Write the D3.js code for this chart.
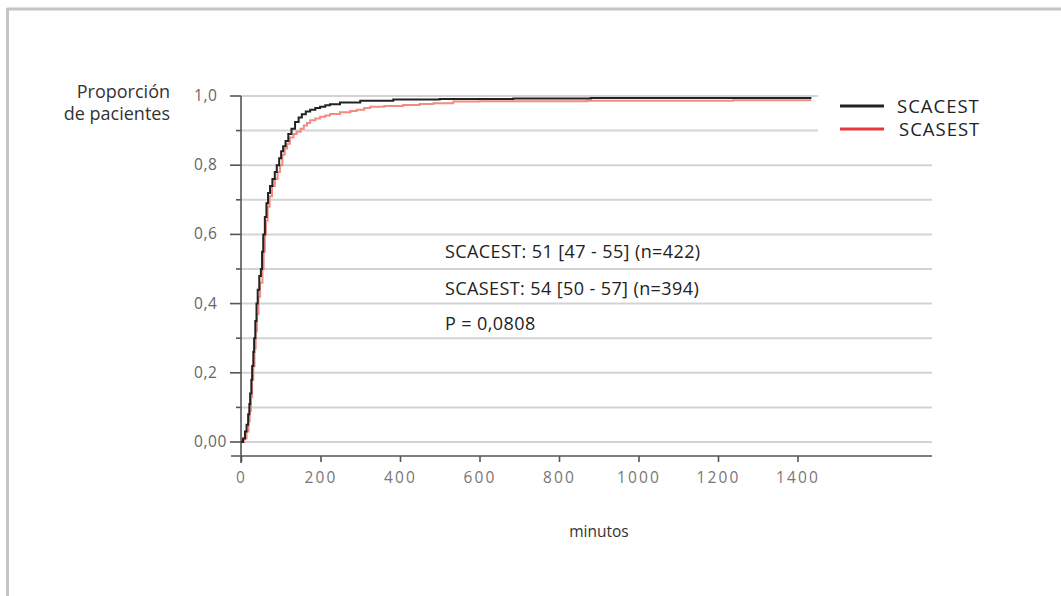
<!DOCTYPE html>
<html>
<head>
<meta charset="utf-8">
<script src="https://cdn.jsdelivr.net/npm/d3@7"></script>
<style>
  html, body { margin: 0; padding: 0; background: #fff; }
  svg { display: block; }
  text { font-family: "Open Sans", "Noto Sans", sans-serif; }
</style>
</head>
<body>
<svg id="chart" width="1061" height="596"></svg>
<script>
// Cumulative proportion of patients over time (minutes)
const seriesNames = ["SCACEST", "SCASEST"];

const scacestTime = [0, 5, 10, 14, 18, 21, 23, 26, 28, 31, 33, 36, 39, 42, 46, 50, 53, 56, 60, 64, 68, 73, 79, 85, 90, 96, 101, 106, 112, 119, 127, 136, 145, 153, 163, 174, 187, 199, 212, 224, 249, 300, 383, 500, 685, 880, 1435];
const scacestProp = [0, 0.01, 0.03, 0.05, 0.08, 0.11, 0.14, 0.18, 0.22, 0.26, 0.30, 0.35, 0.40, 0.44, 0.48, 0.50, 0.55, 0.60, 0.65, 0.69, 0.72, 0.74, 0.76, 0.78, 0.80, 0.82, 0.84, 0.855, 0.87, 0.89, 0.905, 0.925, 0.938, 0.947, 0.955, 0.96, 0.965, 0.969, 0.973, 0.976, 0.981, 0.986, 0.99, 0.991, 0.993, 0.994, 0.994];

const scasestTime = [0, 8, 14, 19, 22, 25, 28, 31, 34, 37, 40, 44, 48, 54, 57, 60, 63, 67, 72, 78, 85, 92, 98, 104, 110, 116, 123, 132, 140, 150, 158, 166, 174, 187, 199, 212, 224, 249, 275, 291, 310, 325, 360, 408, 450, 484, 534, 600, 870, 1238, 1435];
const scasestProp = [0, 0.01, 0.03, 0.06, 0.09, 0.13, 0.18, 0.22, 0.27, 0.32, 0.37, 0.42, 0.46, 0.50, 0.55, 0.60, 0.64, 0.68, 0.71, 0.74, 0.76, 0.78, 0.80, 0.83, 0.848, 0.862, 0.88, 0.89, 0.897, 0.905, 0.915, 0.922, 0.93, 0.935, 0.94, 0.944, 0.948, 0.953, 0.957, 0.96, 0.965, 0.969, 0.971, 0.974, 0.977, 0.979, 0.984, 0.985, 0.986, 0.988, 0.988];

const xTicks = [0, 200, 400, 600, 800, 1000, 1200, 1400];
const yMajorTicks = [0, 0.2, 0.4, 0.6, 0.8, 1.0];
const yMajorLabels = ["0,00", "0,2", "0,4", "0,6", "0,8", "1,0"];
const yGridTicks = [0, 0.1, 0.2, 0.3, 0.4, 0.5, 0.6, 0.7, 0.8, 0.9, 1.0];

const statLines = [
  "SCACEST: 51 [47 - 55] (n=422)",
  "SCASEST: 54 [50 - 57] (n=394)",
  "P = 0,0808"
];

const colors = { SCACEST: "#222222", SCASEST: "#f28b80" };
const legendColors = { SCACEST: "#222222", SCASEST: "#e8383d" };

const svg = d3.select("#chart");

// outer frame (top and left edges)
svg.append("line").attr("x1", 7).attr("x2", 1061).attr("y1", 9).attr("y2", 9)
  .attr("stroke", "#c4c4c4").attr("stroke-width", 3);
svg.append("line").attr("x1", 7.5).attr("x2", 7.5).attr("y1", 8).attr("y2", 596)
  .attr("stroke", "#c4c4c4").attr("stroke-width", 3);

const x = d3.scaleLinear().domain([0, 1400]).range([241, 797.5]);
const y = d3.scaleLinear().domain([0, 1]).range([442, 96]);

// horizontal gridlines; the top two stop short of the legend
svg.append("g").selectAll("line").data(yGridTicks).join("line")
  .attr("x1", 241)
  .attr("x2", d => d >= 0.85 ? 818 : 932)
  .attr("y1", d => y(d)).attr("y2", d => y(d))
  .attr("stroke", "#d3d3d3").attr("stroke-width", 2);

// y axis
const yAxis = svg.append("g").attr("transform", "translate(241,0)");
yAxis.append("line").attr("x1", 0).attr("x2", 0).attr("y1", y(1)).attr("y2", 463)
  .attr("stroke", "#555").attr("stroke-width", 1.6);
yAxis.selectAll(".tk").data(yGridTicks).join("line")
  .attr("x1", (d, i) => i % 2 === 0 ? -11 : -5).attr("x2", 0)
  .attr("y1", d => y(d)).attr("y2", d => y(d))
  .attr("stroke", "#555").attr("stroke-width", 1.6);
yAxis.selectAll(".lb").data(yMajorTicks).join("text")
  .attr("x", -47).attr("y", d => y(d) + 5)
  .attr("text-anchor", "start").attr("fill", "#666").attr("font-size", 15.5)
  .attr("letter-spacing", 0.6)
  .text((d, i) => yMajorLabels[i]);

// x axis
const xAxisG = svg.append("g").attr("transform", "translate(0,456)")
  .call(d3.axisBottom(x).tickValues(xTicks).tickSize(6).tickSizeOuter(0).tickFormat(d3.format("d")));
xAxisG.select(".domain").remove();
xAxisG.append("line").attr("x1", 231).attr("x2", 932).attr("y1", 0).attr("y2", 0)
  .attr("stroke", "#555").attr("stroke-width", 1.6);
xAxisG.selectAll(".tick line").attr("stroke", "#555").attr("stroke-width", 1.6);
xAxisG.selectAll(".tick text").attr("fill", "#777").attr("font-size", 15.5)
  .attr("letter-spacing", 2.2)
  .attr("font-family", "\"Open Sans\", sans-serif").attr("dy", "1.15em");

// axis titles
svg.append("text").attr("x", 170).attr("y", 98).attr("text-anchor", "end")
  .attr("fill", "#333").attr("font-size", 18).text("Proporción");
svg.append("text").attr("x", 170).attr("y", 120).attr("text-anchor", "end")
  .attr("fill", "#333").attr("font-size", 18).text("de pacientes");
svg.append("text").attr("x", 599).attr("y", 537).attr("text-anchor", "middle")
  .attr("fill", "#333").attr("font-size", 15.5).text("minutos");

// cumulative curves
const line = d3.line().x(d => x(d[0])).y(d => y(d[1])).curve(d3.curveStepAfter);
const scasestPts = scasestTime.map((t, i) => [t, scasestProp[i]]);
const scacestPts = scacestTime.map((t, i) => [t, scacestProp[i]]);

svg.append("path").datum(scasestPts).attr("d", line)
  .attr("fill", "none").attr("stroke", colors.SCASEST).attr("stroke-width", 2);
svg.append("path").datum(scacestPts).attr("d", line)
  .attr("fill", "none").attr("stroke", colors.SCACEST).attr("stroke-width", 2);

// legend
const legend = svg.append("g");
seriesNames.forEach((name, i) => {
  const ly = 106 + i * 23;
  legend.append("line").attr("x1", 840).attr("x2", 884).attr("y1", ly).attr("y2", ly)
    .attr("stroke", legendColors[name]).attr("stroke-width", 3);
  legend.append("text").attr("x", i === 0 ? 897 : 899).attr("y", ly + 7)
    .attr("fill", "#222").attr("font-size", 18.5).attr("letter-spacing", 1)
    .text(name);
});

// summary statistics
svg.append("g").selectAll("text").data(statLines).join("text")
  .attr("x", 445).attr("y", (d, i) => [258, 295, 330][i])
  .attr("fill", "#222").attr("font-size", 18).attr("letter-spacing", 0.4)
  .text(d => d);
</script>
</body>
</html>
